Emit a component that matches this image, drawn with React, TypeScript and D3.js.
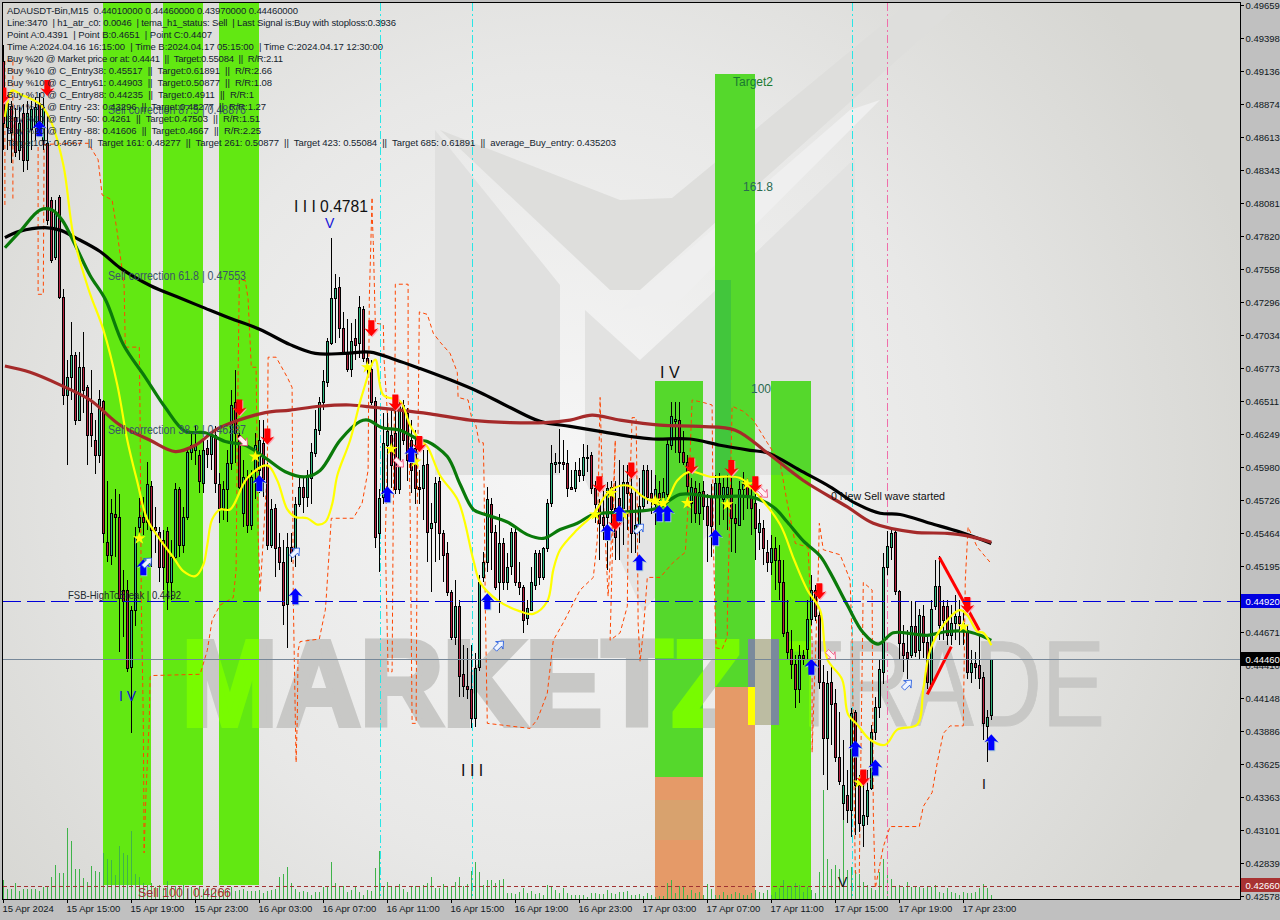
import React from "react";
import * as d3 from "d3";

type Row = [number, number, number, number];
// price in 1/10000 units: open, high, low, close
const apr15Bars: Row[] = [
[4921,4934,4851,4872],[4869,4894,4851,4888],[4886,4890,4840,4865],[4877,4884,4845,4849],[4851,4885,4843,4872],[4880,4887,4833,4843],[4843,4890,4835,4880],[4867,4890,4851,4883],[4869,4893,4859,4885],[4888,4896,4863,4871],
[4859,4892,4851,4885],[4856,4880,4791,4795],[4811,4813,4761,4763],[4766,4811,4763,4801],[4813,4815,4732,4734],[4734,4740,4648,4656],[4656,4684,4600,4670],[4670,4714,4652,4688],[4688,4690,4632,4636],[4636,4690,4635,4678],
[4678,4706,4642,4660],[4662,4664,4600,4624],[4642,4676,4615,4624],[4620,4636,4593,4608],[4608,4660,4602,4653],[4651,4652,4538,4546],[4539,4588,4523,4529],[4529,4573,4521,4562],[4561,4581,4527,4559],[4559,4577,4452,4495],
[4501,4517,4464,4492],[4501,4509,4436,4439],[4440,4488,4387,4485],[4485,4551,4472,4543],[4551,4574,4541,4559],[4559,4575,4545,4555],[4555,4603,4549,4585],[4584,4588,4519,4549],[4551,4567,4530,4549],[4547,4551,4507,4519],
[4541,4549,4501,4519],[4548,4551,4485,4507],[4507,4541,4493,4527],[4527,4586,4523,4581],[4581,4583,4527,4537],[4537,4567,4530,4559],[4559,4615,4557,4611],[4611,4626,4604,4616],[4612,4632,4600,4616],[4608,4612,4578,4588],
[4586,4620,4578,4612],[4614,4620,4598,4609],[4609,4627,4596,4623],[4624,4631,4578,4586],[4585,4594,4554,4566],[4566,4588,4557,4581],[4581,4612,4555,4602],[4602,4660,4596,4648],[4650,4676,4602,4626],[4624,4626,4581,4583],
[4562,4604,4551,4591],[4591,4596,4546,4553],[4553,4596,4549,4591],[4596,4626,4573,4616],[4596,4636,4578,4620],[4618,4636,4575,4589],[4600,4602,4533,4537],[4537,4573,4534,4565],[4566,4569,4511,4534],[4535,4546,4517,4523],
[4523,4541,4473,4489],[4490,4546,4455,4535],[4535,4546,4523,4530],[4534,4575,4519,4569],[4569,4591,4567,4583],[4583,4591,4562,4575],[4575,4596,4567,4591],[4590,4618,4569,4611],[4610,4644,4607,4629],[4628,4654,4624,4650],
];
const apr16Bars: Row[] = [
[4650,4676,4644,4667],[4666,4701,4662,4699],[4697,4781,4696,4733],[4733,4752,4697,4741],[4742,4750,4701,4709],[4709,4722,4689,4689],[4689,4716,4674,4677],[4677,4713,4670,4699],[4701,4716,4684,4696],[4697,4735,4685,4726],
[4724,4727,4682,4685],[4685,4690,4671,4681],[4677,4684,4648,4650],[4651,4654,4534,4543],[4546,4581,4515,4574],[4575,4642,4569,4618],[4616,4642,4573,4627],[4624,4644,4582,4600],[4626,4648,4577,4581],[4581,4650,4577,4648],
[4648,4652,4616,4620],[4642,4646,4588,4604],[4620,4636,4578,4596],[4614,4628,4569,4582],[4583,4596,4569,4581],[4582,4612,4557,4600],[4601,4612,4523,4547],[4550,4570,4499,4554],[4555,4591,4523,4586],[4588,4591,4525,4546],
[4546,4549,4507,4529],[4530,4539,4496,4499],[4499,4501,4461,4464],[4464,4509,4457,4488],[4488,4493,4416,4433],[4434,4457,4416,4425],[4425,4455,4414,4422],[4422,4457,4391,4399],[4399,4451,4392,4439],[4440,4513,4437,4507],
[4511,4531,4507,4523],[4523,4583,4515,4573],[4569,4574,4517,4547],[4547,4553,4501,4503],[4507,4561,4483,4538],[4538,4542,4501,4507],[4507,4530,4501,4519],[4520,4550,4513,4547],[4547,4550,4504,4507],[4507,4523,4497,4503],
[4503,4505,4467,4477],[4479,4493,4473,4487],[4485,4519,4484,4507],[4505,4533,4501,4530],[4530,4533,4505,4511],[4511,4535,4509,4534],[4534,4573,4531,4570],[4570,4616,4567,4602],[4601,4610,4594,4603],[4603,4629,4594,4602],
[4603,4620,4596,4601],[4602,4612,4575,4582],[4583,4596,4581,4581],[4582,4603,4579,4596],[4596,4606,4587,4592],[4592,4617,4588,4607],[4606,4616,4595,4607],[4608,4611,4577,4582],[4582,4588,4554,4569],[4569,4573,4525,4554],
[4559,4580,4541,4553],[4559,4587,4517,4582],[4583,4588,4553,4565],[4566,4588,4525,4543],[4574,4604,4525,4566],[4566,4600,4537,4587],[4587,4600,4549,4578],[4578,4600,4530,4546],[4546,4580,4530,4553],[4553,4590,4538,4568],
];
const apr17Bars: Row[] = [
[4568,4600,4565,4596],[4596,4600,4569,4575],[4578,4596,4561,4574],[4569,4592,4553,4581],[4578,4588,4557,4573],[4575,4590,4569,4579],[4577,4622,4575,4617],[4616,4650,4612,4639],[4635,4650,4610,4637],[4636,4650,4602,4611],
[4611,4627,4600,4603],[4603,4608,4577,4584],[4570,4590,4554,4583],[4582,4588,4554,4562],[4562,4586,4553,4579],[4580,4588,4557,4568],[4568,4577,4523,4553],[4575,4585,4527,4552],[4575,4592,4549,4586],[4586,4594,4553,4575],
[4573,4590,4557,4583],[4577,4592,4549,4583],[4582,4590,4531,4558],[4558,4569,4530,4554],[4553,4588,4553,4581],[4581,4595,4557,4585],[4584,4590,4565,4576],[4576,4581,4545,4566],[4570,4577,4525,4550],[4547,4565,4533,4554],
[4550,4557,4521,4534],[4531,4541,4515,4523],[4523,4545,4513,4534],[4534,4543,4501,4525],[4525,4537,4493,4507],[4507,4525,4464,4467],[4468,4493,4445,4452],[4454,4469,4430,4442],[4442,4449,4407,4422],[4422,4457,4411,4449],
[4449,4453,4441,4447],[4454,4493,4445,4478],[4478,4513,4473,4501],[4501,4505,4476,4480],[4481,4485,4422,4428],[4428,4441,4354,4383],[4383,4437,4342,4427],[4428,4441,4378,4410],[4411,4422,4364,4368],[4368,4404,4346,4349],
[4332,4382,4318,4346],[4338,4358,4316,4326],[4326,4407,4305,4403],[4404,4406,4306,4346],[4346,4354,4309,4316],[4314,4350,4297,4322],[4321,4358,4314,4342],[4344,4394,4342,4388],[4388,4416,4382,4408],[4408,4445,4399,4438],
[4436,4530,4426,4519],[4519,4548,4513,4536],[4535,4549,4525,4546],[4547,4549,4497,4500],[4500,4501,4445,4459],[4459,4473,4436,4449],[4452,4469,4430,4447],[4449,4492,4447,4472],[4472,4492,4448,4452],[4453,4486,4445,4481],
[4480,4489,4447,4460],[4460,4465,4422,4428],[4426,4493,4423,4486],[4488,4525,4485,4504],[4504,4528,4461,4473],[4488,4493,4461,4477],[4488,4493,4457,4465],[4465,4489,4457,4475],[4475,4497,4461,4480],[4480,4493,4457,4475],
[4469,4485,4457,4475],[4469,4473,4430,4436],[4436,4453,4427,4443],[4443,4452,4430,4440],[4441,4465,4422,4431],[4432,4436,4382,4395],[4393,4406,4364,4400],[4402,4446,4398,4446],
];
const bars: Row[] = [...apr15Bars, ...apr16Bars, ...apr17Bars];

const volumes = [19,10,10,16,8,10,10,10,10,8,12,12,22,34,26,26,71,58,30,30,21,17,33,28,27,
46,40,39,24,53,46,44,68,25,22,16,14,16,12,14,11,18,13,13,12,14,10,12,10,12,10,10,9,
9,10,9,9,12,8,9,10,8,8,8,9,6,8,9,10,
22,25,32,16,10,7,8,7,4,7,7,12,12,37,16,12,13,7,9,12,7,4,9,8,31,48,12,17,12,13,15,10,7,12,13,12,14,16,
22,11,11,15,12,12,17,22,13,15,28,37,27,14,19,19,16,19,20,6,6,5,7,11,6,8,5,6,4,14,13,9,6,11,6,4,4,4,4,2,6,6,5,5,9,6,5,7,7,8,4,4,5,3,6,4,2,3,3,16,19,6,13,13,4,9,6,7,4,15,10,4,4,7,4,5,7,6,4,4,6,9,7,6,9,4,7,11,19,12,13,16,14,7,12,9,6,
27,109,40,30,34,30,99,29,32,29,25,17,14,11,9,27,40,27,20,12,14,12,17,12,12,12,11,12,12,14,7,6,11,7,6,4,7,6,6,7,11,15,11,4];

type Pt = [number, number];
const ma200Line: Pt[] = [[0.4,4781],[4,4786],[10.4,4789],[14.2,4787],[18,4781],[24.2,4770],[29.2,4757],[36.7,4743],[44.2,4733],[50.4,4725],[56.7,4717],[64.2,4708],[71.7,4696],[78,4689],[85.4,4689],[91.7,4690],[98,4684],[104.2,4677],[111.7,4668],[119.2,4658],[126.7,4646],[134.2,4635],[141.7,4631],[149.2,4627],[156.7,4623],[162.5,4621],[171.7,4621],[179.2,4616],[186.7,4612],[191,4610],[199.2,4596],[206.7,4583],[213,4570],[219.2,4562],[224.2,4561],[231.7,4554],[239.2,4547],[247,4538]];
const ma100Line: Pt[] = [[0.4,4679],[6.7,4674],[14.2,4664],[21.7,4652],[29.2,4632],[36.7,4620],[43,4611],[48,4616],[53,4628],[58,4635],[65.5,4642],[71.7,4644],[79.2,4647],[86.7,4648],[93,4646],[99.2,4644],[106.7,4641],[116.7,4636],[126.7,4634],[135.5,4634],[141.7,4636],[147.2,4640],[154.2,4636],[164.2,4632],[174.2,4631],[183,4628],[191,4610],[200,4588],[211,4567],[217.5,4554],[227.5,4547],[236,4546],[241,4544],[247,4539]];
const ma50Line: Pt[] = [[0.4,4773],[4.2,4786],[9.2,4803],[12.2,4803],[14.7,4795],[18,4775],[21.7,4751],[25.5,4732],[30,4696],[35.5,4670],[40.5,4646],[45.5,4627],[50.5,4626],[55.5,4619],[60.5,4616],[65.5,4606],[70.5,4595],[75.5,4591],[79.2,4596],[84.2,4620],[89.2,4635],[91.2,4636],[94.7,4630],[99.2,4628],[104.2,4620],[106,4619],[111,4607],[114.2,4585],[117.5,4565],[120.5,4561],[126,4555],[131,4545],[135,4542],[139.2,4549],[143.5,4554],[147.5,4561],[155,4563],[163.5,4566],[169.2,4577],[177.5,4575],[186.7,4575],[192.5,4567],[196,4555],[200,4540],[204.2,4528],[206.7,4515],[211,4489],[215,4467],[218.7,4458],[222.5,4467],[227.5,4466],[231,4465],[236,4468],[241,4468],[244.2,4465],[247,4461]];
const temaLine: Pt[] = [[0.4,4877],[2.2,4898],[4.2,4895],[9.2,4887],[11.7,4875],[15,4839],[17.5,4783],[21,4743],[22.2,4732],[25,4708],[28.5,4664],[31,4620],[33.5,4587],[36,4557],[39.2,4541],[42.5,4527],[45,4516],[48,4512],[50,4521],[51,4537],[52.2,4557],[54.2,4565],[56.7,4565],[61,4590],[66,4600],[68.5,4588],[71,4565],[73,4559],[76,4558],[78.5,4553],[80.5,4555],[82.2,4569],[83.5,4592],[86.7,4620],[89.7,4656],[93,4684],[95,4656],[99.2,4651],[101.7,4632],[104.2,4620],[106,4615],[109.2,4592],[113.7,4572],[117.5,4525],[119.2,4507],[123.5,4493],[129.2,4484],[132.5,4482],[136,4492],[137.5,4517],[139.2,4533],[143.5,4549],[147.5,4561],[151.7,4580],[156.2,4584],[160,4575],[165,4569],[168.5,4588],[171.7,4595],[176.7,4591],[184.2,4590],[188.5,4577],[194.2,4553],[197.7,4525],[201,4501],[204.2,4485],[206,4446],[209.7,4430],[211.2,4402],[213.5,4394],[216.7,4382],[220.5,4378],[223.5,4390],[228.5,4394],[230,4422],[231.7,4453],[235,4473],[239.2,4485],[241,4481],[243.5,4468],[245,4467],[247,4457]];
const bandLine: Pt[] = [[8.7,4853],[8.7,4736],[10,4736],[10.2,4855],[16.7,4856],[21.2,4856],[23.7,4843],[24.7,4815],[27.2,4811],[28.5,4785],[30.2,4743],[30.5,4694],[34,4694],[34.2,4636],[34.5,4493],[35,4398],[35.2,4292],[35.7,4342],[36.5,4398],[36.7,4432],[37.2,4433],[49.2,4434],[51,4453],[52.2,4477],[54.2,4489],[57.5,4495],[58.2,4517],[58.5,4620],[59,4747],[60.5,4747],[61.2,4732],[62,4678],[63.2,4678],[63.7,4546],[64.2,4499],[66,4596],[66.2,4686],[68.2,4686],[71,4670],[72.2,4662],[72.5,4493],[73,4400],[73.2,4364],[73.5,4400],[73.7,4453],[74.2,4460],[79,4462],[80.5,4485],[80.7,4493],[82,4558],[87.5,4558],[89.7,4570],[91.2,4596],[91.5,4732],[92.2,4813],[92.2,4801],[92.5,4777],[93,4713],[95,4712],[95.2,4684],[95.7,4658],[96.2,4631],[95.5,4541],[96.2,4436],[97.2,4436],[97.5,4567],[98,4705],[98,4744],[101.2,4744],[101.2,4658],[101.7,4567],[102.2,4395],[103.2,4395],[103.5,4567],[104,4722],[106,4720],[107.5,4705],[109.2,4698],[111.7,4689],[113.5,4674],[113.7,4654],[116.2,4652],[117.2,4636],[118,4634],[119,4618],[120,4618],[120.2,4586],[120.5,4488],[121,4395],[131.7,4391],[133.5,4398],[136,4419],[137.5,4461],[140,4475],[144.2,4501],[147.5,4511],[148.5,4541],[149.2,4654],[149.7,4594],[151.2,4496],[152.2,4551],[153,4620],[151.7,4461],[154.2,4467],[156,4488],[156.2,4541],[157.2,4638],[158.2,4638],[158.5,4567],[158.7,4475],[159.2,4444],[160,4468],[161,4511],[164.2,4511],[167.5,4523],[170.5,4531],[171.2,4567],[172.2,4652],[175,4650],[177.2,4648],[177.5,4541],[178,4477],[178.2,4455],[179.7,4454],[181,4464],[181,4477],[181.7,4573],[182.2,4647],[185,4643],[187.5,4636],[191,4618],[194.2,4602],[196,4570],[198,4538],[201.2,4535],[202.2,4461],[202.2,4372],[203.7,4511],[204,4554],[205,4533],[209.2,4529],[211.7,4509],[212.2,4461],[213,4276],[214,4276],[214.2,4324],[215,4507],[217.2,4501],[217.5,4324],[218,4264],[220,4297],[221.7,4313],[229,4313],[230,4329],[232.2,4340],[233.5,4364],[235,4387],[236.7,4393],[240,4393],[240.5,4509],[241.2,4551],[243.5,4535],[246.7,4523]];
const bandStart: Pt[] = [[0.4,4807],[0.4,4922],[2.4,4922],[2.4,4811]];

const sellArrows: Pt[] = [[0,4894],[11,4900],[59,4646],[66,4623],[92,4709],[98,4650],[104,4617],[149,4585],[153,4555],[157,4596],[172,4600],[182,4598],[188,4585],[204,4500],[215,4352],[241,4489]];
const buyArrows: Pt[] = [[9,4868],[35,4519],[64,4586],[73,4496],[96,4577],[102,4609],[121,4492],[151,4547],[154,4562],[159,4523],[164,4562],[166,4562],[178,4543],[202,4440],[213,4375],[218,4360],[247,4380]];
const stars: Pt[] = [[34,4542],[63,4607],[91,4678],[97,4613],[103,4603],[148,4561],[152,4578],[155,4561],[163,4572],[165,4570],[171,4570],[181,4569],[186,4585],[214,4348],[218,4360],[240,4472]];
const hollowUp: Pt[] = [[36,4523],[73,4531],[124,4457],[159,4550],[226,4426]];
const hollowDown: Pt[] = [[60,4619],[99,4602],[190,4578],[207,4449]];
const wedgeA: Pt[] = [[234,4527],[244,4469]];
const wedgeB: Pt[] = [[231,4418],[237,4456]];

const priceTicks = ["0.49659","0.49398","0.49136","0.48874","0.48613","0.48343","0.48081","0.47820","0.47558","0.47296","0.47034","0.46773","0.46511","0.46249","0.45980","0.45726","0.45464","0.45195","0.44933","0.44671","0.44410","0.44148","0.43886","0.43625","0.43363","0.43101","0.42839","0.42578"];
const timeTicks = ["15 Apr 2024","15 Apr 15:00","15 Apr 19:00","15 Apr 23:00","16 Apr 03:00","16 Apr 07:00","16 Apr 11:00","16 Apr 15:00","16 Apr 19:00","16 Apr 23:00","17 Apr 03:00","17 Apr 07:00","17 Apr 11:00","17 Apr 15:00","17 Apr 19:00","17 Apr 23:00"];
const infoLines = [
"ADAUSDT-Bin,M15  0.44010000 0.44460000 0.43970000 0.44460000",
"Line:3470  | h1_atr_c0: 0.0046  | tema_h1_status: Sell  | Last Signal is:Buy with stoploss:0.3936",
"Point A:0.4391  | Point B:0.4651  | Point C:0.4407",
"Time A:2024.04.16 16:15:00  | Time B:2024.04.17 05:15:00  | Time C:2024.04.17 12:30:00",
"Buy %20 @ Market price or at: 0.4441  ||  Target:0.55084  ||  R/R:2.11",
"Buy %10 @ C_Entry38: 0.45517  ||  Target:0.61891  ||  R/R:2.66",
"Buy %10 @ C_Entry61: 0.44903  ||  Target:0.50877  ||  R/R:1.08",
"Buy %10 @ C_Entry88: 0.44235  ||  Target:0.4911  ||  R/R:1",
"Buy %10 @ Entry -23: 0.43296  ||  Target:0.48277  ||  R/R:1.27",
"Buy %10 @ Entry -50: 0.4261  ||  Target:0.47503  ||  R/R:1.51",
"Buy %20 @ Entry -88: 0.41606  ||  Target:0.4667  ||  R/R:2.25",
"Target100: 0.4667  ||  Target 161: 0.48277  ||  Target 261: 0.50877  ||  Target 423: 0.55084  ||  Target 685: 0.61891  ||  average_Buy_entry: 0.435203",
];
const infoWidths = [291, 389, 205, 376, 276, 265, 265, 247, 259, 253, 254, 609];
const fibLevel = 0.4492;
const lastPrice = 0.4446;
const sellLevel = 0.4266;

const W = 1280, H = 920;
const BOTTOM = 899, RIGHT = 1240;
const x = d3.scaleLinear().domain([0, 247]).range([3.3, 991.3]);
const y = d3.scaleLinear().domain([0.42578, 0.49659]).range([896, 5]);
const yp = (pip: number) => y(pip / 10000);
const vol = d3.scaleLinear().domain([0, 120]).range([BOTTOM, BOTTOM - 120]);
const line = d3.line<Pt>().x((d) => x(d[0])).y((d) => yp(d[1]));
const smooth = d3.line<Pt>().x((d) => x(d[0])).y((d) => yp(d[1])).curve(d3.curveCatmullRom.alpha(0.5));
const starPath = d3.symbol().type(d3.symbolStar).size(50)() as string;
const px = (i: number) => Math.round(x(i)) + 0.5;

const UI = "'Liberation Sans', Arial, sans-serif";
const GREEN_A = "#62e812", GREEN_B = "#55d82c", ORANGE = "#e59a68";
const upArrow = "M0,-8 L7,0 L3,-1.5 L3,8 L-3,8 L-3,-1.5 L-7,0 Z";

function Watermark({ fill }: { fill: string }) {
  return (
    <g fill={fill} stroke={fill}>
      <text x={182} y={725} fontSize={120} fontWeight="bold" strokeWidth={6} strokeLinejoin="miter" textLength={560} lengthAdjust="spacingAndGlyphs">MARKETZ</text>
      <text x={785} y={726} fontSize={122} strokeWidth={1} textLength={320} lengthAdjust="spacingAndGlyphs">TRADE</text>
    </g>
  );
}

export default function App() {
  return (
    <svg width={W} height={H} style={{ position: "absolute", left: 0, top: 0, background: "#c0c0c0" }} fontFamily={UI}>
      <defs>
        <radialGradient id="bg" gradientUnits="userSpaceOnUse" cx="560" cy="470" r="720">
          <stop offset="0" stopColor="#f6f6f6" />
          <stop offset="0.55" stopColor="#e8e8e7" />
          <stop offset="1" stopColor="#d6d6d2" />
        </radialGradient>
        <clipPath id="plot"><rect x={3} y={3} width={RIGHT - 3} height={BOTTOM - 3} /></clipPath>
        <clipPath id="greens">
          <rect x={103} y={3} width={48} height={882} />
          <rect x={163} y={3} width={40} height={882} />
          <rect x={219} y={3} width={40} height={882} />
          <rect x={655} y={381} width={48} height={396} />
          <rect x={715} y={74} width={40} height={613} />
          <rect x={771} y={381} width={40} height={518} />
        </clipPath>
      </defs>
      <rect x={3} y={3} width={RIGHT - 3} height={BOTTOM - 3} fill="url(#bg)" />
      <g clipPath="url(#plot)">
        {/* background logo */}
        <polygon points="435,130 435,475 560,475 560,285" fill="#e0e0df" />
        <polygon points="585,310 585,475 855,475 855,158 730,277 640,360" fill="#e2e2e1" />
        <polygon points="583,475 643,612 712,530 760,475" fill="#e4e4e4" />
        <polygon points="440,130 610,290 640,290 953,10 900,10 672,198 620,200" fill="#dededc" />
        <polygon points="620,310 680,300 880,100 850,110" fill="#efefef" />
        <Watermark fill="#c8c8c6" />
        {/* zones */}
        <rect x={103} y={3} width={48} height={882} fill={GREEN_A} />
        <rect x={163} y={3} width={40} height={882} fill={GREEN_A} />
        <rect x={219} y={3} width={40} height={882} fill={GREEN_A} />
        <rect x={655} y={381} width={48} height={396} fill={GREEN_B} />
        <rect x={655} y={777} width={48} height={122} fill={ORANGE} />
        <rect x={655} y={800} width={48} height={40} fill="#d8a26e" />
        <rect x={715} y={74} width={40} height={613} fill={GREEN_B} />
        <rect x={715} y={280} width={16} height={195} fill="#42c63c" />
        <rect x={715} y={687} width={40} height={212} fill={ORANGE} />
        <rect x={771} y={381} width={40} height={518} fill={GREEN_A} />
        <rect x={771} y={381} width={40} height={94} fill={GREEN_B} />
        <g clipPath="url(#greens)"><Watermark fill="#78fb00" /></g>
        <rect x={755} y={639} width={16} height={86} fill="#bcbca2" />
        <rect x={748} y={639} width={7} height={48} fill="#7a8a9c" />
        <rect x={748} y={687} width={7} height={38} fill="#ffff00" />
        <rect x={771} y={639} width={8} height={86} fill="#7a8a9c" />

        {/* volume */}
        <g stroke="#3fb34a" strokeWidth={1} shapeRendering="crispEdges">
          {volumes.map((v, i) => <line key={i} x1={px(i)} x2={px(i)} y1={vol(0)} y2={vol(v)} />)}
        </g>

        {/* horizontal & vertical markers */}
        <line x1={3} x2={RIGHT} y1={y(sellLevel) + 0.5} y2={y(sellLevel) + 0.5} stroke="#a03232" strokeDasharray="4 3" shapeRendering="crispEdges" />
        <g stroke="#29e6e6" strokeDasharray="8 3 2 3" shapeRendering="crispEdges">
          {[94, 117, 212].map((i) => <line key={i} x1={x(i) + 1} x2={x(i) + 1} y1={3} y2={BOTTOM} />)}
        </g>
        <line x1={x(221) - 0.2} x2={x(221) - 0.2} y1={3} y2={BOTTOM} stroke="#f06eaa" strokeDasharray="8 3 2 3" shapeRendering="crispEdges" />

        {/* bands */}
        <path d={line(bandStart) as string} fill="none" stroke="#ff4500" strokeDasharray="4 3" />
        <path d={line(bandLine) as string} fill="none" stroke="#ff4500" strokeDasharray="4 3" />

        {/* candles */}
        {bars.map(([o, h, l, c], i) => {
          const cx = px(i);
          const up = c >= o;
          const top = Math.round(yp(Math.max(o, c))) + 0.5;
          const bot = Math.round(yp(Math.min(o, c))) + 0.5;
          return (
            <g key={i} shapeRendering="crispEdges">
              <line x1={cx} x2={cx} y1={yp(h)} y2={yp(l)} stroke="#000" />
              <rect x={cx - 1} y={top} width={2} height={Math.max(bot - top, 1)} fill={up ? "#2fb57e" : "#b5213f"} stroke="#000" />
            </g>
          );
        })}

        {/* moving averages */}
        <path d={smooth(ma200Line) as string} fill="none" stroke="#000" strokeWidth={3.2} />
        <path d={smooth(ma100Line) as string} fill="none" stroke="#a52a2a" strokeWidth={3.2} />
        <path d={smooth(ma50Line) as string} fill="none" stroke="#0a7a0a" strokeWidth={3.2} />
        <path d={smooth(temaLine) as string} fill="none" stroke="#ffff00" strokeWidth={2.2} />

        {/* wedge */}
        <path d={line(wedgeA) as string} stroke="#ff0000" strokeWidth={3} fill="none" />
        <path d={line(wedgeB) as string} stroke="#ff0000" strokeWidth={3} fill="none" />

        {/* stars */}
        {stars.map((d, i) => <path key={i} d={starPath} transform={`translate(${x(d[0])},${yp(d[1])})`} fill="#ffff00" />)}

        {/* signal arrows */}
        {sellArrows.map((d, i) => (
          <g key={i} transform={`translate(${x(d[0])},${yp(d[1])}) scale(1,-1)`}>
            <path d={upArrow} fill="#ffa0b0" transform="translate(1,-1)" />
            <path d={upArrow} fill="#ff0000" />
          </g>
        ))}
        {buyArrows.map((d, i) => (
          <g key={i} transform={`translate(${x(d[0])},${yp(d[1])})`}>
            <path d={upArrow} fill="#a0c8d8" transform="translate(1,1)" />
            <path d={upArrow} fill="#0000ff" />
          </g>
        ))}
        {hollowUp.map((d, i) => (
          <path key={i} d={upArrow} transform={`translate(${x(d[0])},${yp(d[1])}) rotate(45) scale(0.75)`} fill="#eef4ff" stroke="#1450e0" strokeWidth={1} />
        ))}
        {hollowDown.map((d, i) => (
          <path key={i} d={upArrow} transform={`translate(${x(d[0])},${yp(d[1])}) rotate(135) scale(0.75)`} fill="#fff0f4" stroke="#f04070" strokeWidth={1} />
        ))}

        {/* horizontal lines on top */}
        <line x1={3} x2={RIGHT} y1={y(fibLevel) + 0.5} y2={y(fibLevel) + 0.5} stroke="#0000d8" strokeDasharray="18 6" shapeRendering="crispEdges" />
        <line x1={3} x2={RIGHT} y1={y(lastPrice) + 0.5} y2={y(lastPrice) + 0.5} stroke="#778899" shapeRendering="crispEdges" />

        {/* chart labels */}
        <g fontSize={12} fill="#3a5568">
          <text x={108} y={114} textLength={138} lengthAdjust="spacingAndGlyphs">Sell correction 87.5 | 0.48876</text>
          <text x={108} y={280} textLength={138} lengthAdjust="spacingAndGlyphs">Sell correction 61.8 | 0.47553</text>
          <text x={108} y={434} textLength={138} lengthAdjust="spacingAndGlyphs">Sell correction 38.2 | 0.46387</text>
        </g>
        <text x={68} y={599} fontSize={10.5} fill="#202830" textLength={113} lengthAdjust="spacingAndGlyphs">FSB-HighToBreak  |  0.4492</text>
        <text x={138} y={897} fontSize={13} fill="#a03232" textLength={93} lengthAdjust="spacingAndGlyphs">Sell 100 | 0.4266</text>
        <text x={294} y={212} fontSize={16} fill="#101010" textLength={74} lengthAdjust="spacingAndGlyphs">I I I 0.4781</text>
        <text x={660} y={378} fontSize={16} fill="#101010">I V</text>
        <text x={119} y={701} fontSize={14} fill="#1414d8">I  V</text>
        <text x={461} y={776} fontSize={16} fill="#101010">I I I</text>
        <text x={838} y={887} fontSize={14} fill="#101010">V</text>
        <text x={982} y={789} fontSize={14} fill="#101010">I</text>
        <text x={325} y={228} fontSize={14} fill="#1414d8">V</text>
        <text x={733} y={86} fontSize={12} fill="#1a7a30">Target2</text>
        <text x={743} y={191} fontSize={12} fill="#2a6a50">161.8</text>
        <text x={751} y={393} fontSize={12} fill="#2a6a50">100</text>
        <text x={831} y={500} fontSize={11} fill="#101010" textLength={114} lengthAdjust="spacingAndGlyphs">0 New Sell wave started</text>

        {/* info block */}
        <g fontSize={9.5} fill="#14232e">
          {infoLines.map((t, i) => <text key={i} x={7} y={14 + i * 12} style={{ whiteSpace: "pre" }} textLength={infoWidths[i]} lengthAdjust="spacing">{t}</text>)}
        </g>
      </g>

      {/* frame */}
      <rect x={2.5} y={2.5} width={RIGHT - 2} height={BOTTOM - 2} fill="none" stroke="#000" shapeRendering="crispEdges" />

      {/* price axis */}
      <g fontSize={9.5} fill="#101820">
        {priceTicks.map((t, i) => (
          <g key={t}>
            <line x1={RIGHT} x2={RIGHT + 4} y1={5.5 + i * 33} y2={5.5 + i * 33} stroke="#000" shapeRendering="crispEdges" />
            <text x={1245.5} y={9 + i * 33}>{t}</text>
          </g>
        ))}
      </g>
      <rect x={1241} y={594} width={39} height={14} fill="#0000e0" />
      <text x={1245.5} y={605} fontSize={9.5} fill="#fff">0.44920</text>
      <rect x={1241} y={652} width={39} height={14} fill="#000" />
      <text x={1245.5} y={663} fontSize={9.5} fill="#fff">0.44460</text>
      <rect x={1241} y={878} width={39} height={14} fill="#a83232" />
      <text x={1245.5} y={889} fontSize={9.5} fill="#fff">0.42660</text>

      {/* time axis */}
      <g fontSize={9.5} fill="#101820">
        {timeTicks.map((t, i) => {
          const tx = Math.round(x(i * 16)) + 0.5;
          return (
            <g key={t}>
              <line x1={tx} x2={tx} y1={BOTTOM} y2={BOTTOM + 4} stroke="#000" shapeRendering="crispEdges" />
              <text x={tx - 1} y={912}>{t}</text>
            </g>
          );
        })}
      </g>
    </svg>
  );
}
